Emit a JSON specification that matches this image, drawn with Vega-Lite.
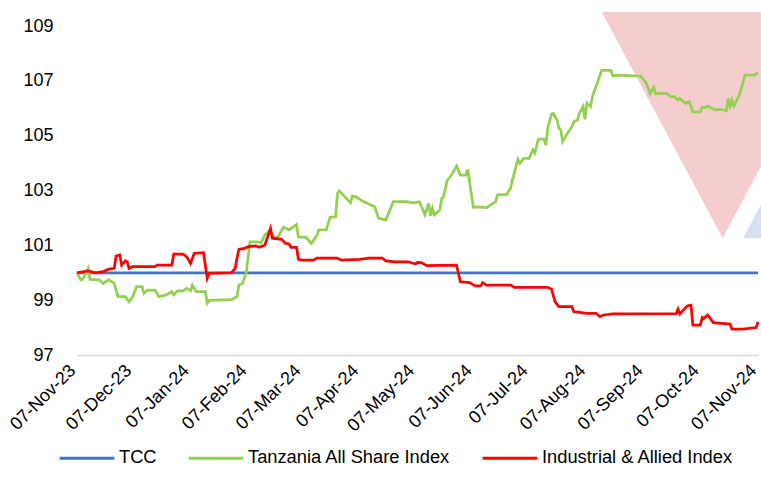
{
  "$schema": "https://vega.github.io/schema/vega-lite/v6.json",
  "width": 681,
  "height": 329,
  "autosize": {"type": "none"},
  "padding": {"left": 77, "top": 26, "right": 3, "bottom": 132},
  "background": "white",
  "config": {"view": {"stroke": null}, "font": "Liberation Sans"},
  "datasets": {
    "wm": [
      {"shape": "pink", "date": "2024-08-15", "value": 109.51, "value2": 109.51},
      {"shape": "pink", "date": "2024-10-19", "value": 109.51, "value2": 101.26},
      {"shape": "pink", "date": "2024-12-23", "value": 109.51, "value2": 109.51},
      {"shape": "blue", "date": "2024-10-30", "value": 101.26, "value2": 101.26},
      {"shape": "blue", "date": "2024-12-22", "value": 108.09, "value2": 101.26}
    ],
    "lines": [
      {"series": "TCC", "date": "2023-11-07", "value": 100},
      {"series": "TCC", "date": "2024-11-07", "value": 100},
      {"series": "Tanzania All Share Index", "date": "2023-11-07", "value": 100.0},
      {"series": "Tanzania All Share Index", "date": "2023-11-09", "value": 99.74},
      {"series": "Tanzania All Share Index", "date": "2023-11-10", "value": 99.76},
      {"series": "Tanzania All Share Index", "date": "2023-11-13", "value": 100.16},
      {"series": "Tanzania All Share Index", "date": "2023-11-14", "value": 99.76},
      {"series": "Tanzania All Share Index", "date": "2023-11-19", "value": 99.74},
      {"series": "Tanzania All Share Index", "date": "2023-11-21", "value": 99.61},
      {"series": "Tanzania All Share Index", "date": "2023-11-24", "value": 99.74},
      {"series": "Tanzania All Share Index", "date": "2023-11-27", "value": 99.61},
      {"series": "Tanzania All Share Index", "date": "2023-11-28", "value": 99.37},
      {"series": "Tanzania All Share Index", "date": "2023-11-29", "value": 99.13},
      {"series": "Tanzania All Share Index", "date": "2023-12-03", "value": 99.13},
      {"series": "Tanzania All Share Index", "date": "2023-12-05", "value": 98.94},
      {"series": "Tanzania All Share Index", "date": "2023-12-07", "value": 99.13},
      {"series": "Tanzania All Share Index", "date": "2023-12-09", "value": 99.49},
      {"series": "Tanzania All Share Index", "date": "2023-12-12", "value": 99.49},
      {"series": "Tanzania All Share Index", "date": "2023-12-13", "value": 99.25},
      {"series": "Tanzania All Share Index", "date": "2023-12-15", "value": 99.37},
      {"series": "Tanzania All Share Index", "date": "2023-12-19", "value": 99.37},
      {"series": "Tanzania All Share Index", "date": "2023-12-21", "value": 99.13},
      {"series": "Tanzania All Share Index", "date": "2023-12-25", "value": 99.19},
      {"series": "Tanzania All Share Index", "date": "2023-12-28", "value": 99.31},
      {"series": "Tanzania All Share Index", "date": "2023-12-29", "value": 99.19},
      {"series": "Tanzania All Share Index", "date": "2023-12-31", "value": 99.34},
      {"series": "Tanzania All Share Index", "date": "2024-01-03", "value": 99.34},
      {"series": "Tanzania All Share Index", "date": "2024-01-05", "value": 99.43},
      {"series": "Tanzania All Share Index", "date": "2024-01-07", "value": 99.34},
      {"series": "Tanzania All Share Index", "date": "2024-01-08", "value": 99.55},
      {"series": "Tanzania All Share Index", "date": "2024-01-10", "value": 99.31},
      {"series": "Tanzania All Share Index", "date": "2024-01-15", "value": 99.31},
      {"series": "Tanzania All Share Index", "date": "2024-01-16", "value": 98.89},
      {"series": "Tanzania All Share Index", "date": "2024-01-17", "value": 98.99},
      {"series": "Tanzania All Share Index", "date": "2024-01-21", "value": 99.0},
      {"series": "Tanzania All Share Index", "date": "2024-01-29", "value": 99.02},
      {"series": "Tanzania All Share Index", "date": "2024-02-01", "value": 99.13},
      {"series": "Tanzania All Share Index", "date": "2024-02-02", "value": 99.55},
      {"series": "Tanzania All Share Index", "date": "2024-02-04", "value": 99.61},
      {"series": "Tanzania All Share Index", "date": "2024-02-06", "value": 100.03},
      {"series": "Tanzania All Share Index", "date": "2024-02-08", "value": 101.13},
      {"series": "Tanzania All Share Index", "date": "2024-02-12", "value": 101.13},
      {"series": "Tanzania All Share Index", "date": "2024-02-14", "value": 101.10},
      {"series": "Tanzania All Share Index", "date": "2024-02-16", "value": 101.38},
      {"series": "Tanzania All Share Index", "date": "2024-02-19", "value": 101.56},
      {"series": "Tanzania All Share Index", "date": "2024-02-21", "value": 101.26},
      {"series": "Tanzania All Share Index", "date": "2024-02-23", "value": 101.31},
      {"series": "Tanzania All Share Index", "date": "2024-02-26", "value": 101.66},
      {"series": "Tanzania All Share Index", "date": "2024-02-29", "value": 101.56},
      {"series": "Tanzania All Share Index", "date": "2024-03-04", "value": 101.76},
      {"series": "Tanzania All Share Index", "date": "2024-03-05", "value": 101.31},
      {"series": "Tanzania All Share Index", "date": "2024-03-09", "value": 101.30},
      {"series": "Tanzania All Share Index", "date": "2024-03-12", "value": 101.07},
      {"series": "Tanzania All Share Index", "date": "2024-03-15", "value": 101.38},
      {"series": "Tanzania All Share Index", "date": "2024-03-16", "value": 101.56},
      {"series": "Tanzania All Share Index", "date": "2024-03-20", "value": 101.56},
      {"series": "Tanzania All Share Index", "date": "2024-03-22", "value": 102.02},
      {"series": "Tanzania All Share Index", "date": "2024-03-25", "value": 102.04},
      {"series": "Tanzania All Share Index", "date": "2024-03-26", "value": 102.90},
      {"series": "Tanzania All Share Index", "date": "2024-03-27", "value": 102.99},
      {"series": "Tanzania All Share Index", "date": "2024-04-02", "value": 102.55},
      {"series": "Tanzania All Share Index", "date": "2024-04-03", "value": 102.80},
      {"series": "Tanzania All Share Index", "date": "2024-04-05", "value": 102.77},
      {"series": "Tanzania All Share Index", "date": "2024-04-08", "value": 102.63},
      {"series": "Tanzania All Share Index", "date": "2024-04-15", "value": 102.41},
      {"series": "Tanzania All Share Index", "date": "2024-04-17", "value": 101.99},
      {"series": "Tanzania All Share Index", "date": "2024-04-21", "value": 101.92},
      {"series": "Tanzania All Share Index", "date": "2024-04-25", "value": 102.59},
      {"series": "Tanzania All Share Index", "date": "2024-05-02", "value": 102.59},
      {"series": "Tanzania All Share Index", "date": "2024-05-06", "value": 102.55},
      {"series": "Tanzania All Share Index", "date": "2024-05-09", "value": 102.59},
      {"series": "Tanzania All Share Index", "date": "2024-05-12", "value": 102.11},
      {"series": "Tanzania All Share Index", "date": "2024-05-14", "value": 102.53},
      {"series": "Tanzania All Share Index", "date": "2024-05-15", "value": 102.07},
      {"series": "Tanzania All Share Index", "date": "2024-05-16", "value": 102.35},
      {"series": "Tanzania All Share Index", "date": "2024-05-17", "value": 102.11},
      {"series": "Tanzania All Share Index", "date": "2024-05-20", "value": 102.29},
      {"series": "Tanzania All Share Index", "date": "2024-05-21", "value": 102.71},
      {"series": "Tanzania All Share Index", "date": "2024-05-22", "value": 102.77},
      {"series": "Tanzania All Share Index", "date": "2024-05-24", "value": 103.38},
      {"series": "Tanzania All Share Index", "date": "2024-05-25", "value": 103.44},
      {"series": "Tanzania All Share Index", "date": "2024-05-27", "value": 103.65},
      {"series": "Tanzania All Share Index", "date": "2024-05-29", "value": 103.89},
      {"series": "Tanzania All Share Index", "date": "2024-05-31", "value": 103.56},
      {"series": "Tanzania All Share Index", "date": "2024-06-03", "value": 103.56},
      {"series": "Tanzania All Share Index", "date": "2024-06-04", "value": 103.77},
      {"series": "Tanzania All Share Index", "date": "2024-06-07", "value": 102.39},
      {"series": "Tanzania All Share Index", "date": "2024-06-11", "value": 102.40},
      {"series": "Tanzania All Share Index", "date": "2024-06-14", "value": 102.37},
      {"series": "Tanzania All Share Index", "date": "2024-06-19", "value": 102.59},
      {"series": "Tanzania All Share Index", "date": "2024-06-20", "value": 102.84},
      {"series": "Tanzania All Share Index", "date": "2024-06-25", "value": 102.86},
      {"series": "Tanzania All Share Index", "date": "2024-06-27", "value": 103.08},
      {"series": "Tanzania All Share Index", "date": "2024-06-28", "value": 103.38},
      {"series": "Tanzania All Share Index", "date": "2024-07-01", "value": 104.14},
      {"series": "Tanzania All Share Index", "date": "2024-07-02", "value": 103.99},
      {"series": "Tanzania All Share Index", "date": "2024-07-04", "value": 104.17},
      {"series": "Tanzania All Share Index", "date": "2024-07-07", "value": 104.17},
      {"series": "Tanzania All Share Index", "date": "2024-07-09", "value": 104.48},
      {"series": "Tanzania All Share Index", "date": "2024-07-10", "value": 104.36},
      {"series": "Tanzania All Share Index", "date": "2024-07-12", "value": 104.87},
      {"series": "Tanzania All Share Index", "date": "2024-07-15", "value": 104.87},
      {"series": "Tanzania All Share Index", "date": "2024-07-16", "value": 104.66},
      {"series": "Tanzania All Share Index", "date": "2024-07-17", "value": 105.27},
      {"series": "Tanzania All Share Index", "date": "2024-07-19", "value": 105.79},
      {"series": "Tanzania All Share Index", "date": "2024-07-20", "value": 105.81},
      {"series": "Tanzania All Share Index", "date": "2024-07-22", "value": 105.57},
      {"series": "Tanzania All Share Index", "date": "2024-07-23", "value": 105.27},
      {"series": "Tanzania All Share Index", "date": "2024-07-24", "value": 105.21},
      {"series": "Tanzania All Share Index", "date": "2024-07-25", "value": 104.78},
      {"series": "Tanzania All Share Index", "date": "2024-07-27", "value": 105.02},
      {"series": "Tanzania All Share Index", "date": "2024-07-30", "value": 105.33},
      {"series": "Tanzania All Share Index", "date": "2024-07-31", "value": 105.51},
      {"series": "Tanzania All Share Index", "date": "2024-08-02", "value": 105.57},
      {"series": "Tanzania All Share Index", "date": "2024-08-03", "value": 105.81},
      {"series": "Tanzania All Share Index", "date": "2024-08-05", "value": 106.06},
      {"series": "Tanzania All Share Index", "date": "2024-08-06", "value": 105.60},
      {"series": "Tanzania All Share Index", "date": "2024-08-07", "value": 106.18},
      {"series": "Tanzania All Share Index", "date": "2024-08-09", "value": 106.06},
      {"series": "Tanzania All Share Index", "date": "2024-08-10", "value": 106.42},
      {"series": "Tanzania All Share Index", "date": "2024-08-15", "value": 107.38},
      {"series": "Tanzania All Share Index", "date": "2024-08-20", "value": 107.38},
      {"series": "Tanzania All Share Index", "date": "2024-08-21", "value": 107.17},
      {"series": "Tanzania All Share Index", "date": "2024-08-23", "value": 107.21},
      {"series": "Tanzania All Share Index", "date": "2024-09-05", "value": 107.17},
      {"series": "Tanzania All Share Index", "date": "2024-09-08", "value": 106.91},
      {"series": "Tanzania All Share Index", "date": "2024-09-10", "value": 106.54},
      {"series": "Tanzania All Share Index", "date": "2024-09-12", "value": 106.76},
      {"series": "Tanzania All Share Index", "date": "2024-09-13", "value": 106.54},
      {"series": "Tanzania All Share Index", "date": "2024-09-19", "value": 106.54},
      {"series": "Tanzania All Share Index", "date": "2024-09-21", "value": 106.42},
      {"series": "Tanzania All Share Index", "date": "2024-09-23", "value": 106.42},
      {"series": "Tanzania All Share Index", "date": "2024-09-25", "value": 106.30},
      {"series": "Tanzania All Share Index", "date": "2024-09-26", "value": 106.36},
      {"series": "Tanzania All Share Index", "date": "2024-09-29", "value": 106.18},
      {"series": "Tanzania All Share Index", "date": "2024-10-01", "value": 106.24},
      {"series": "Tanzania All Share Index", "date": "2024-10-03", "value": 105.87},
      {"series": "Tanzania All Share Index", "date": "2024-10-07", "value": 105.87},
      {"series": "Tanzania All Share Index", "date": "2024-10-08", "value": 106.03},
      {"series": "Tanzania All Share Index", "date": "2024-10-10", "value": 106.03},
      {"series": "Tanzania All Share Index", "date": "2024-10-11", "value": 106.08},
      {"series": "Tanzania All Share Index", "date": "2024-10-15", "value": 105.94},
      {"series": "Tanzania All Share Index", "date": "2024-10-18", "value": 105.96},
      {"series": "Tanzania All Share Index", "date": "2024-10-21", "value": 105.91},
      {"series": "Tanzania All Share Index", "date": "2024-10-22", "value": 106.36},
      {"series": "Tanzania All Share Index", "date": "2024-10-23", "value": 106.08},
      {"series": "Tanzania All Share Index", "date": "2024-10-24", "value": 106.30},
      {"series": "Tanzania All Share Index", "date": "2024-10-25", "value": 106.08},
      {"series": "Tanzania All Share Index", "date": "2024-10-28", "value": 106.48},
      {"series": "Tanzania All Share Index", "date": "2024-10-31", "value": 107.21},
      {"series": "Tanzania All Share Index", "date": "2024-11-05", "value": 107.21},
      {"series": "Tanzania All Share Index", "date": "2024-11-07", "value": 107.30},
      {"series": "Industrial & Allied Index", "date": "2023-11-07", "value": 100.0},
      {"series": "Industrial & Allied Index", "date": "2023-11-13", "value": 100.07},
      {"series": "Industrial & Allied Index", "date": "2023-11-17", "value": 100.0},
      {"series": "Industrial & Allied Index", "date": "2023-11-21", "value": 100.04},
      {"series": "Industrial & Allied Index", "date": "2023-11-24", "value": 100.13},
      {"series": "Industrial & Allied Index", "date": "2023-11-27", "value": 100.16},
      {"series": "Industrial & Allied Index", "date": "2023-11-28", "value": 100.61},
      {"series": "Industrial & Allied Index", "date": "2023-11-30", "value": 100.65},
      {"series": "Industrial & Allied Index", "date": "2023-12-01", "value": 100.28},
      {"series": "Industrial & Allied Index", "date": "2023-12-03", "value": 100.44},
      {"series": "Industrial & Allied Index", "date": "2023-12-04", "value": 100.40},
      {"series": "Industrial & Allied Index", "date": "2023-12-05", "value": 100.16},
      {"series": "Industrial & Allied Index", "date": "2023-12-07", "value": 100.22},
      {"series": "Industrial & Allied Index", "date": "2023-12-19", "value": 100.22},
      {"series": "Industrial & Allied Index", "date": "2023-12-20", "value": 100.28},
      {"series": "Industrial & Allied Index", "date": "2023-12-28", "value": 100.28},
      {"series": "Industrial & Allied Index", "date": "2023-12-29", "value": 100.68},
      {"series": "Industrial & Allied Index", "date": "2024-01-03", "value": 100.68},
      {"series": "Industrial & Allied Index", "date": "2024-01-05", "value": 100.58},
      {"series": "Industrial & Allied Index", "date": "2024-01-07", "value": 100.34},
      {"series": "Industrial & Allied Index", "date": "2024-01-09", "value": 100.71},
      {"series": "Industrial & Allied Index", "date": "2024-01-14", "value": 100.73},
      {"series": "Industrial & Allied Index", "date": "2024-01-16", "value": 99.80},
      {"series": "Industrial & Allied Index", "date": "2024-01-17", "value": 99.98},
      {"series": "Industrial & Allied Index", "date": "2024-01-29", "value": 100.0},
      {"series": "Industrial & Allied Index", "date": "2024-01-31", "value": 100.16},
      {"series": "Industrial & Allied Index", "date": "2024-02-01", "value": 100.53},
      {"series": "Industrial & Allied Index", "date": "2024-02-02", "value": 100.85},
      {"series": "Industrial & Allied Index", "date": "2024-02-05", "value": 100.89},
      {"series": "Industrial & Allied Index", "date": "2024-02-07", "value": 100.95},
      {"series": "Industrial & Allied Index", "date": "2024-02-11", "value": 100.98},
      {"series": "Industrial & Allied Index", "date": "2024-02-13", "value": 100.93},
      {"series": "Industrial & Allied Index", "date": "2024-02-16", "value": 101.01},
      {"series": "Industrial & Allied Index", "date": "2024-02-19", "value": 101.62},
      {"series": "Industrial & Allied Index", "date": "2024-02-20", "value": 101.26},
      {"series": "Industrial & Allied Index", "date": "2024-02-25", "value": 101.22},
      {"series": "Industrial & Allied Index", "date": "2024-02-27", "value": 101.07},
      {"series": "Industrial & Allied Index", "date": "2024-02-29", "value": 101.05},
      {"series": "Industrial & Allied Index", "date": "2024-03-01", "value": 100.93},
      {"series": "Industrial & Allied Index", "date": "2024-03-04", "value": 100.93},
      {"series": "Industrial & Allied Index", "date": "2024-03-05", "value": 100.49},
      {"series": "Industrial & Allied Index", "date": "2024-03-07", "value": 100.46},
      {"series": "Industrial & Allied Index", "date": "2024-03-13", "value": 100.46},
      {"series": "Industrial & Allied Index", "date": "2024-03-15", "value": 100.53},
      {"series": "Industrial & Allied Index", "date": "2024-03-26", "value": 100.53},
      {"series": "Industrial & Allied Index", "date": "2024-03-28", "value": 100.46},
      {"series": "Industrial & Allied Index", "date": "2024-04-07", "value": 100.49},
      {"series": "Industrial & Allied Index", "date": "2024-04-12", "value": 100.53},
      {"series": "Industrial & Allied Index", "date": "2024-04-19", "value": 100.53},
      {"series": "Industrial & Allied Index", "date": "2024-04-21", "value": 100.43},
      {"series": "Industrial & Allied Index", "date": "2024-04-26", "value": 100.40},
      {"series": "Industrial & Allied Index", "date": "2024-05-03", "value": 100.40},
      {"series": "Industrial & Allied Index", "date": "2024-05-07", "value": 100.32},
      {"series": "Industrial & Allied Index", "date": "2024-05-08", "value": 100.38},
      {"series": "Industrial & Allied Index", "date": "2024-05-10", "value": 100.37},
      {"series": "Industrial & Allied Index", "date": "2024-05-13", "value": 100.26},
      {"series": "Industrial & Allied Index", "date": "2024-05-29", "value": 100.28},
      {"series": "Industrial & Allied Index", "date": "2024-05-31", "value": 99.67},
      {"series": "Industrial & Allied Index", "date": "2024-06-05", "value": 99.64},
      {"series": "Industrial & Allied Index", "date": "2024-06-08", "value": 99.52},
      {"series": "Industrial & Allied Index", "date": "2024-06-11", "value": 99.52},
      {"series": "Industrial & Allied Index", "date": "2024-06-12", "value": 99.64},
      {"series": "Industrial & Allied Index", "date": "2024-06-14", "value": 99.55},
      {"series": "Industrial & Allied Index", "date": "2024-06-27", "value": 99.55},
      {"series": "Industrial & Allied Index", "date": "2024-06-29", "value": 99.47},
      {"series": "Industrial & Allied Index", "date": "2024-07-17", "value": 99.47},
      {"series": "Industrial & Allied Index", "date": "2024-07-19", "value": 99.40},
      {"series": "Industrial & Allied Index", "date": "2024-07-21", "value": 98.94},
      {"series": "Industrial & Allied Index", "date": "2024-07-23", "value": 98.76},
      {"series": "Industrial & Allied Index", "date": "2024-07-30", "value": 98.76},
      {"series": "Industrial & Allied Index", "date": "2024-07-31", "value": 98.58},
      {"series": "Industrial & Allied Index", "date": "2024-08-07", "value": 98.52},
      {"series": "Industrial & Allied Index", "date": "2024-08-12", "value": 98.52},
      {"series": "Industrial & Allied Index", "date": "2024-08-14", "value": 98.40},
      {"series": "Industrial & Allied Index", "date": "2024-08-16", "value": 98.46},
      {"series": "Industrial & Allied Index", "date": "2024-08-21", "value": 98.50},
      {"series": "Industrial & Allied Index", "date": "2024-09-24", "value": 98.51},
      {"series": "Industrial & Allied Index", "date": "2024-09-25", "value": 98.67},
      {"series": "Industrial & Allied Index", "date": "2024-09-26", "value": 98.50},
      {"series": "Industrial & Allied Index", "date": "2024-09-30", "value": 98.79},
      {"series": "Industrial & Allied Index", "date": "2024-10-02", "value": 98.82},
      {"series": "Industrial & Allied Index", "date": "2024-10-03", "value": 98.09},
      {"series": "Industrial & Allied Index", "date": "2024-10-07", "value": 98.09},
      {"series": "Industrial & Allied Index", "date": "2024-10-08", "value": 98.37},
      {"series": "Industrial & Allied Index", "date": "2024-10-09", "value": 98.34},
      {"series": "Industrial & Allied Index", "date": "2024-10-11", "value": 98.46},
      {"series": "Industrial & Allied Index", "date": "2024-10-14", "value": 98.18},
      {"series": "Industrial & Allied Index", "date": "2024-10-23", "value": 98.13},
      {"series": "Industrial & Allied Index", "date": "2024-10-24", "value": 97.94},
      {"series": "Industrial & Allied Index", "date": "2024-10-30", "value": 97.94},
      {"series": "Industrial & Allied Index", "date": "2024-11-06", "value": 98.0},
      {"series": "Industrial & Allied Index", "date": "2024-11-07", "value": 98.21}
    ]
  },
  "encoding": {
    "x": {
      "field": "date",
      "type": "temporal",
      "scale": {
        "type": "utc",
        "domain": [
          {"year": 2023, "month": 11, "date": 7, "utc": true},
          {"year": 2024, "month": 11, "date": 7, "utc": true}
        ]
      },
      "axis": {
        "title": null,
        "values": [
          {"year": 2023, "month": 11, "date": 7, "utc": true},
          {"year": 2023, "month": 12, "date": 7, "utc": true},
          {"year": 2024, "month": 1, "date": 7, "utc": true},
          {"year": 2024, "month": 2, "date": 7, "utc": true},
          {"year": 2024, "month": 3, "date": 7, "utc": true},
          {"year": 2024, "month": 4, "date": 7, "utc": true},
          {"year": 2024, "month": 5, "date": 7, "utc": true},
          {"year": 2024, "month": 6, "date": 7, "utc": true},
          {"year": 2024, "month": 7, "date": 7, "utc": true},
          {"year": 2024, "month": 8, "date": 7, "utc": true},
          {"year": 2024, "month": 9, "date": 7, "utc": true},
          {"year": 2024, "month": 10, "date": 7, "utc": true},
          {"year": 2024, "month": 11, "date": 7, "utc": true}
        ],
        "labelExpr": "utcFormat(datum.value, '%d-%b-%y')",
        "labelAngle": -45,
        "labelAlign": "right",
        "labelBaseline": "bottom",
        "labelFontSize": 18,
        "labelColor": "#000000",
        "labelFont": "Liberation Sans",
        "labelPadding": 19,
        "labelOffset": 2,
        "labelOverlap": false,
        "labelFlush": false,
        "labelBound": false,
        "ticks": false,
        "grid": false,
        "domainColor": "#D9D9D9",
        "domainWidth": 1.5
      }
    },
    "y": {
      "field": "value",
      "type": "quantitative",
      "scale": {"domain": [97, 109], "nice": false, "zero": false},
      "axis": {
        "title": null,
        "values": [97, 99, 101, 103, 105, 107, 109],
        "labelFontSize": 18,
        "labelColor": "#000000",
        "labelFont": "Liberation Sans",
        "labelPadding": 24,
        "ticks": false,
        "domain": false,
        "grid": false
      }
    }
  },
  "layer": [
    {
      "data": {"name": "wm"},
      "mark": {"type": "area", "opacity": 1},
      "encoding": {
        "y2": {"field": "value2"},
        "fill": {
          "field": "shape",
          "type": "nominal",
          "scale": {"domain": ["pink", "blue"], "range": ["#F6CDCE", "#D6DFEE"]},
          "legend": null
        },
        "detail": {"field": "shape"}
      }
    },
    {
      "data": {"name": "lines"},
      "mark": {"type": "line", "strokeWidth": 2.75},
      "encoding": {
        "color": {
          "field": "series",
          "type": "nominal",
          "scale": {
            "domain": ["TCC", "Tanzania All Share Index", "Industrial & Allied Index"],
            "range": ["#4472C4", "#92D050", "#FF0000"]
          },
          "legend": {
            "title": null,
            "orient": "none",
            "legendX": -19,
            "legendY": 403,
            "direction": "horizontal",
            "symbolType": "stroke",
            "symbolStrokeWidth": 3,
            "symbolSize": 3000,
            "labelFontSize": 18.3,
            "labelFont": "Liberation Sans",
            "labelColor": "#000000",
            "labelOffset": 3,
            "labelLimit": 400,
            "columnPadding": 25,
            "padding": 0
          }
        }
      }
    }
  ]
}
